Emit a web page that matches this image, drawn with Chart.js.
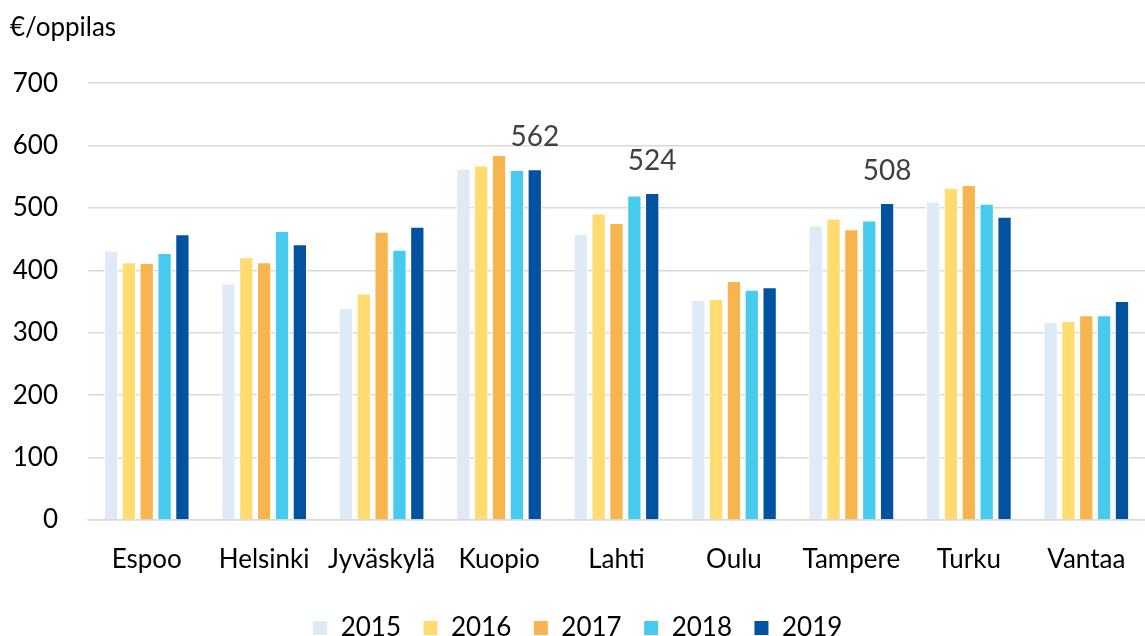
<!DOCTYPE html>
<html>
<head>
<meta charset="utf-8">
<script src="https://cdn.jsdelivr.net/npm/chart.js@4/dist/chart.umd.min.js"></script>
<style>
  body { margin: 0; background: #fff; }
  #wrap { width: 1145px; height: 636px; }
</style>
</head>
<body>
<div id="wrap"><canvas id="myChart" width="1145" height="636"></canvas></div>
<script>
// cities and yearly values (€/oppilas)
var cities = ["Espoo", "Helsinki", "Jyväskylä", "Kuopio", "Lahti", "Oulu", "Tampere", "Turku", "Vantaa"];
var years = ["2015", "2016", "2017", "2018", "2019"];
var v2015 = [432, 379, 340, 563, 458, 353, 472, 510, 317];
var v2016 = [413, 421, 363, 568, 491, 354, 483, 532, 319];
var v2017 = [412, 413, 462, 585, 476, 383, 466, 537, 328];
var v2018 = [428, 463, 433, 561, 520, 369, 480, 507, 328];
var v2019 = [458, 442, 470, 562, 524, 373, 508, 486, 351];
var yTicks = [0, 100, 200, 300, 400, 500, 600, 700];
var labelled = ["Kuopio", "Lahti", "Tampere"];

var colors = ["#DEEBF7", "#FFDB70", "#F8B54F", "#46CBEE", "#01529F"];
var series = [v2015, v2016, v2017, v2018, v2019];

var font = "Lato, 'Open Sans', sans-serif";

// value labels above the 2019 bars of some cities
var valueLabels = {
  id: "valueLabels",
  afterDatasetsDraw: function (chart) {
    var ctx = chart.ctx;
    var meta = chart.getDatasetMeta(4);
    ctx.save();
    ctx.font = "28px " + font;
    ctx.fillStyle = "#404040";
    ctx.textAlign = "center";
    ctx.textBaseline = "bottom";
    cities.forEach(function (c, i) {
      if (labelled.indexOf(c) < 0) return;
      var bar = meta.data[i];
      ctx.fillText(String(v2019[i]), bar.x, bar.y - 18);
    });
    ctx.restore();
  }
};

var datasets = years.map(function (y, k) {
  return {
    label: y,
    data: series[k],
    backgroundColor: colors[k],
    borderColor: "#ffffff",
    borderWidth: 1,
    categoryPercentage: 0.76,
    barPercentage: 0.8
  };
});

var ctx = document.getElementById("myChart").getContext("2d");
var myChart = new Chart(ctx, {
  type: "bar",
  data: { labels: cities, datasets: datasets },
  plugins: [valueLabels],
  options: {
    responsive: false,
    animation: false,
    layout: { padding: { left: 10, right: 0, top: 2, bottom: -15 } },
    plugins: {
      title: {
        display: true,
        text: "€/oppilas",
        align: "start",
        color: "#000",
        font: { family: font, size: 26, weight: "normal" },
        padding: { top: 10, bottom: 40 }
      },
      legend: {
        position: "bottom",
        labels: {
          color: "#000",
          font: { family: font, size: 26 },
          boxWidth: 15,
          boxHeight: 15,
          padding: 22
        }
      },
      tooltip: { enabled: false }
    },
    scales: {
      x: {
        grid: { display: false },
        border: { display: true, color: "#d9d9d9", width: 1.5 },
        afterFit: function (axis) { axis.height = 73; },
        ticks: { color: "#000", font: { family: font, size: 26 }, padding: 16, maxRotation: 0 }
      },
      y: {
        min: 0,
        max: 700,
        afterBuildTicks: function (axis) {
          axis.ticks = yTicks.map(function (v) { return { value: v }; });
        },
        afterFit: function (axis) { axis.width = 78; },
        grid: { color: "#d9d9d9", lineWidth: 1.5, drawTicks: false },
        border: { display: false },
        ticks: { color: "#000", font: { family: font, size: 26 }, padding: 30 }
      }
    }
  }
});
</script>
</body>
</html>
